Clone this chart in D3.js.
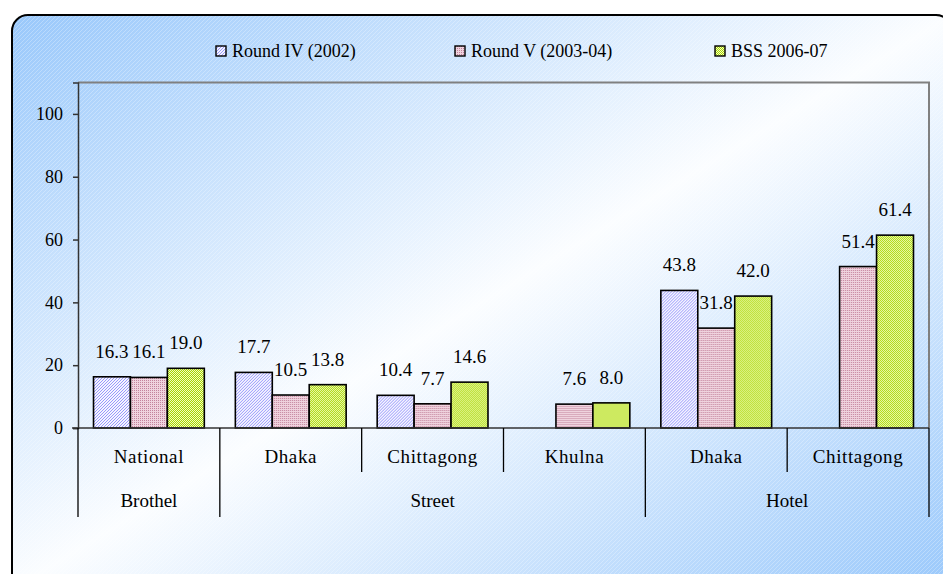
<!DOCTYPE html>
<html>
<head>
<meta charset="utf-8">
<script src="https://cdn.jsdelivr.net/npm/d3@7"></script>
<style>
  html, body { margin: 0; padding: 0; background: #ffffff; }
  svg text { font-family: "Liberation Serif", "Times New Roman", "DejaVu Serif", serif; }
</style>
</head>
<body>
<div id="chart"></div>
<script>
// categories (two levels) and series values
const categories = ["National", "Dhaka", "Chittagong", "Khulna", "Dhaka", "Chittagong"];
const groups = ["Brothel", "Street", "Street", "Street", "Hotel", "Hotel"];
const seriesNames = ["Round IV (2002)", "Round V (2003-04)", "BSS 2006-07"];
const roundIV = [16.3, 17.7, 10.4, null, 43.8, null];
const roundV = [16.1, 10.5, 7.7, 7.6, 31.8, 51.4];
const bss = [19.0, 13.8, 14.6, 8.0, 42.0, 61.4];
const yTicks = [0, 20, 40, 60, 80, 100];

const width = 943, height = 574;
const plot = { left: 78, right: 929, top: 82.5, bottom: 428 };
const serif = "'Liberation Serif', 'Times New Roman', 'DejaVu Serif', serif";

const svg = d3.select("#chart").append("svg")
  .attr("width", width).attr("height", height)
  .style("display", "block");

const defs = svg.append("defs");

const bg = defs.append("linearGradient").attr("id", "bgGrad")
  .attr("x1", 0).attr("y1", 0).attr("x2", 1).attr("y2", 1);
bg.append("stop").attr("offset", "0%").attr("stop-color", "#99c8fb");
bg.append("stop").attr("offset", "50%").attr("stop-color", "#fbfdff");
bg.append("stop").attr("offset", "100%").attr("stop-color", "#99c8fb");

// faint diagonal stripes over the background
const stripes = defs.append("pattern").attr("id", "stripes")
  .attr("width", 4).attr("height", 4).attr("patternUnits", "userSpaceOnUse");
stripes.append("path").attr("d", "M-1,1 l2,-2 M0,4 l4,-4 M3,5 l2,-2")
  .attr("stroke", "#ffffff").attr("stroke-width", 0.6).attr("opacity", 0.45);

// bar fill patterns
const p1 = defs.append("pattern").attr("id", "pat0")
  .attr("width", 3).attr("height", 3).attr("patternUnits", "userSpaceOnUse");
p1.append("rect").attr("width", 3).attr("height", 3).attr("fill", "#f4f4ff");
p1.append("path").attr("d", "M-1,1 l2,-2 M0,3 l3,-3 M2,4 l2,-2")
  .attr("stroke", "#8d8dfb").attr("stroke-width", 0.9);

const p2 = defs.append("pattern").attr("id", "pat1")
  .attr("width", 2).attr("height", 2).attr("patternUnits", "userSpaceOnUse");
p2.append("rect").attr("width", 2).attr("height", 2).attr("fill", "#efd3de");
p2.append("rect").attr("width", 1).attr("height", 1).attr("fill", "#c3839c");

const p3 = defs.append("pattern").attr("id", "pat2")
  .attr("width", 2).attr("height", 2).attr("patternUnits", "userSpaceOnUse");
p3.append("rect").attr("width", 2).attr("height", 2).attr("fill", "#a8d400");
p3.append("rect").attr("width", 1).attr("height", 1).attr("fill", "#f2ffc0");
p3.append("rect").attr("x", 1).attr("y", 1).attr("width", 1).attr("height", 1).attr("fill", "#f2ffc0");

// chart area
svg.append("rect").attr("x", 12).attr("y", 15).attr("width", 940).attr("height", 575)
  .attr("rx", 16).attr("fill", "url(#bgGrad)");
svg.append("rect").attr("x", 12).attr("y", 15).attr("width", 940).attr("height", 575)
  .attr("rx", 16).attr("fill", "url(#stripes)")
  .attr("stroke", "#000").attr("stroke-width", 2);

const series = [roundIV, roundV, bss];
const rows = categories.map((c, i) => ({
  i, category: c, group: groups[i],
  values: series.map((s, k) => ({ k, value: s[i] })),
}));

const x0 = d3.scaleBand().domain(d3.range(categories.length))
  .range([plot.left, plot.right]).padding(0);
const x1 = d3.scaleBand().domain(d3.range(seriesNames.length))
  .range([0, x0.bandwidth()]).paddingInner(0).paddingOuter(0.42);
const y = d3.scaleLinear().domain([0, 110]).range([plot.bottom, plot.top]);

// plot frame (top and right in grey)
svg.append("path")
  .attr("d", `M${plot.left},${plot.top}H${plot.right}V${plot.bottom}`)
  .attr("fill", "none").attr("stroke", "#808080").attr("stroke-width", 2);

// y axis
const gy = svg.append("g").attr("transform", `translate(${plot.left},0)`)
  .call(d3.axisLeft(y).tickValues(yTicks).tickSize(5).tickPadding(10));
gy.attr("font-family", serif).attr("font-size", 18);
gy.select(".domain").attr("stroke", "#333").attr("stroke-width", 1.5);
gy.selectAll(".tick line").attr("stroke", "#333").attr("stroke-width", 1.5);
gy.selectAll(".tick text").attr("fill", "#000");

// bars
const cat = svg.append("g").selectAll("g").data(rows).join("g")
  .attr("transform", d => `translate(${x0(d.i)},0)`);

cat.selectAll("rect")
  .data(d => d.values.filter(v => v.value != null))
  .join("rect")
  .attr("x", v => x1(v.k))
  .attr("y", v => y(v.value))
  .attr("width", x1.bandwidth())
  .attr("height", v => y(0) - y(v.value))
  .attr("fill", v => `url(#pat${v.k})`)
  .attr("stroke", "#000").attr("stroke-width", 1.6);

cat.selectAll("text")
  .data(d => d.values.filter(v => v.value != null))
  .join("text")
  .attr("x", v => x1(v.k) + x1.bandwidth() / 2)
  .attr("y", v => y(v.value) - 19)
  .attr("text-anchor", "middle")
  .attr("font-family", serif)
  .attr("font-size", 19)
  .text(v => v.value.toFixed(1));

// category axis
const axisG = svg.append("g").attr("font-family", serif);
axisG.append("line")
  .attr("x1", plot.left - 6).attr("x2", plot.right)
  .attr("y1", plot.bottom).attr("y2", plot.bottom)
  .attr("stroke", "#333").attr("stroke-width", 1.5);

// group spans from the groups array
const spans = [];
groups.forEach((g, i) => {
  const last = spans[spans.length - 1];
  if (last && last.name === g) last.end = i;
  else spans.push({ name: g, start: i, end: i });
});
const groupEdges = new Set(spans.map(s => s.start).concat([categories.length]));

d3.range(categories.length + 1).forEach(i => {
  const xx = i < categories.length ? x0(i) : plot.right;
  axisG.append("line")
    .attr("x1", xx).attr("x2", xx)
    .attr("y1", plot.bottom)
    .attr("y2", groupEdges.has(i) ? 517 : 472)
    .attr("stroke", "#000").attr("stroke-width", 1.3);
});

axisG.selectAll(".cat").data(rows).join("text")
  .attr("class", "cat")
  .attr("x", d => x0(d.i) + x0.bandwidth() / 2)
  .attr("y", 463)
  .attr("text-anchor", "middle")
  .attr("font-size", 19)
  .attr("letter-spacing", 0.6)
  .text(d => d.category);

axisG.selectAll(".grp").data(spans).join("text")
  .attr("class", "grp")
  .attr("x", s => (x0(s.start) + x0(s.end) + x0.bandwidth()) / 2)
  .attr("y", 507)
  .attr("text-anchor", "middle")
  .attr("font-size", 19)
  .text(s => s.name);

// legend
const legendX = [216, 455, 715];
const legend = svg.append("g").attr("font-family", serif)
  .selectAll("g").data(seriesNames).join("g")
  .attr("transform", (d, i) => `translate(${legendX[i]},46)`);
legend.append("rect").attr("width", 10).attr("height", 10)
  .attr("fill", (d, i) => `url(#pat${i})`)
  .attr("stroke", "#000").attr("stroke-width", 1.4);
legend.append("text").attr("x", 16).attr("y", 11)
  .attr("font-size", 18)
  .text(d => d);
</script>
</body>
</html>
